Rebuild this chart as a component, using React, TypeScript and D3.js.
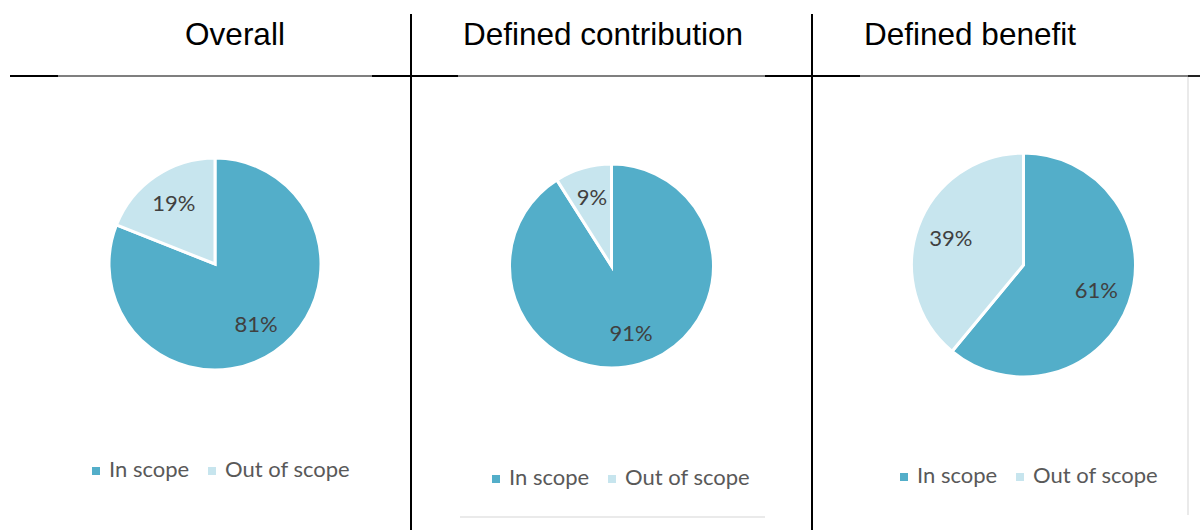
import React from "react";
import * as d3 from "d3";

// chart values
const panels = ["Overall", "Defined contribution", "Defined benefit"];
const categories = ["In scope", "Out of scope"];
const inScope = [81, 91, 61];
const outOfScope = [19, 9, 39];

const colors = ["#53aec9", "#c7e5ee"];

// layout for each panel
const layout = [
  { title: 235, cx: 215, cy: 264, r: 106, legendX: 92, legendY: 477 },
  { title: 603, cx: 611.5, cy: 266, r: 102, legendX: 492, legendY: 485 },
  { title: 970, cx: 1023.5, cy: 265, r: 112, legendX: 900, legendY: 483 }
];

const pie = d3.pie<number>().sort(null).value(d => d);

function PiePanel({ i }: { i: number }) {
  const L = layout[i];
  const values = [inScope[i], outOfScope[i]];
  const arcs = pie(values);
  const arc = d3.arc<d3.PieArcDatum<number>>().innerRadius(0).outerRadius(L.r);
  const labelArc = d3
    .arc<d3.PieArcDatum<number>>()
    .innerRadius(L.r * 0.69)
    .outerRadius(L.r * 0.69);

  return (
    <g>
      <text
        x={L.title}
        y={45}
        textAnchor="middle"
        fontFamily="'Liberation Sans', Arial, sans-serif"
        fontSize={31.5}
        fill="#000"
      >
        {panels[i]}
      </text>
      <g transform={`translate(${L.cx},${L.cy})`}>
        {arcs.map((a, k) => (
          <path key={k} d={arc(a) || ""} fill={colors[k]} stroke="#fff" strokeWidth={3} strokeLinejoin="miter" />
        ))}
        {arcs.map((a, k) => {
          const [x, y] = labelArc.centroid(a);
          return (
            <text
              key={k}
              x={x}
              y={y}
              dy="0.32em"
              textAnchor="middle"
              fontFamily="Lato, sans-serif"
              fontSize={22}
              fill="#404040"
            >
              {`${a.data}%`}
            </text>
          );
        })}
      </g>
      <g fontFamily="Lato, sans-serif" fontSize={22} fill="#595959">
        {categories.map((c, k) => {
          const x = L.legendX + k * 116;
          return (
            <g key={c}>
              <rect x={x} y={L.legendY - 10} width={8} height={8} fill={colors[k]} />
              <text x={x + 17} y={L.legendY}>
                {c}
              </text>
            </g>
          );
        })}
      </g>
    </g>
  );
}

export default function App() {
  const W = 1200;
  const H = 530;
  return (
    <svg
      width={W}
      height={H}
      style={{ position: "absolute", left: 0, top: 0, background: "#fff" }}
    >
      <rect width={W} height={H} fill="#fff" />
      {/* header rules */}
      <line x1={58} x2={372} y1={76} y2={76} stroke="#555" strokeWidth={1.5} />
      <line x1={458} x2={765} y1={76} y2={76} stroke="#555" strokeWidth={1.5} />
      <line x1={860} x2={1188} y1={76} y2={76} stroke="#555" strokeWidth={1.5} />
      <line x1={10} x2={58} y1={76} y2={76} stroke="#000" strokeWidth={2} />
      <line x1={372} x2={458} y1={76} y2={76} stroke="#000" strokeWidth={2} />
      <line x1={765} x2={860} y1={76} y2={76} stroke="#000" strokeWidth={2} />
      <line x1={1188} x2={1200} y1={76} y2={76} stroke="#222" strokeWidth={2} />
      {/* panel separators */}
      <line x1={411} x2={411} y1={14} y2={530} stroke="#000" strokeWidth={2} />
      <line x1={812} x2={812} y1={14} y2={530} stroke="#000" strokeWidth={2} />
      {/* faint chart frame leftovers */}
      <line x1={1188} x2={1188} y1={77} y2={515} stroke="#e3e3e3" strokeWidth={1.5} />
      <line x1={460} x2={765} y1={517} y2={517} stroke="#e3e3e3" strokeWidth={1.5} />
      {panels.map((_, i) => (
        <PiePanel key={i} i={i} />
      ))}
    </svg>
  );
}
